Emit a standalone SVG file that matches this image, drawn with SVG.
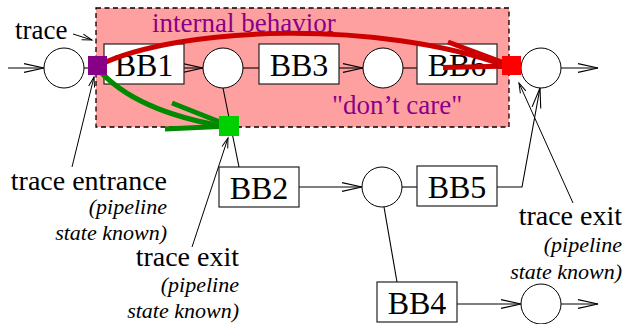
<svg xmlns="http://www.w3.org/2000/svg" width="625" height="324" viewBox="0 0 625 324">
  <style>
    .lbl { font-family: "Liberation Serif", "Times New Roman", serif; fill: #000; }
    .bbt { font-family: "Liberation Serif", "Times New Roman", serif; font-size: 32px; text-anchor: middle; fill: #000; }
    .note { font-size: 28px; text-anchor: end; }
    .sub { font-size: 22px; font-style: italic; text-anchor: end; }
    .purple { font-family: "Liberation Serif", "Times New Roman", serif; font-size: 27px; fill: #880088; }
    .box { fill: #fff; stroke: #222; stroke-width: 1.2; }
    .node { fill: #fff; stroke: #000; stroke-width: 1; }
    .edge { fill: none; stroke: #000; stroke-width: 1.1; }
    .arrow { marker-end: url(#open); }
    .ann { fill: none; stroke: #000; stroke-width: 1; marker-end: url(#small); }
    .red { fill: none; stroke: #cc0000; stroke-width: 5; }
    .green { fill: none; stroke: #008a00; stroke-width: 5; }
  </style>
  <defs>
    <marker id="open" markerUnits="userSpaceOnUse" markerWidth="22" markerHeight="12" refX="20" refY="5" orient="auto" overflow="visible">
      <path d="M0,0.6 L20,5 L0,9.4" fill="none" stroke="#000" stroke-width="1.1"/>
    </marker>
    <marker id="small" markerUnits="userSpaceOnUse" markerWidth="12" markerHeight="8" refX="10" refY="3" orient="auto" overflow="visible">
      <path d="M0,0 L10,3 L0,6" fill="none" stroke="#000" stroke-width="1"/>
    </marker>
  </defs>

  <!-- shaded "don't care" region -->
  <g id="region">
    <rect x="96" y="8" width="413" height="119" fill="#ffa0a0" stroke="#000" stroke-width="1.3" stroke-dasharray="5 3.5"/>
    <text class="purple" x="152" y="32">internal behavior</text>
    <text class="purple" x="332" y="114">"don’t care"</text>
  </g>

  <!-- connectors -->
  <g id="connectors">
    <line class="edge arrow" x1="8" y1="68" x2="44" y2="68"/>
    <line class="edge" x1="84" y1="68" x2="104" y2="68"/>
    <line class="edge arrow" x1="184" y1="68" x2="203" y2="68"/>
    <line class="edge" x1="243" y1="68" x2="259" y2="68"/>
    <line class="edge arrow" x1="339" y1="68" x2="363" y2="68"/>
    <line class="edge" x1="403" y1="68" x2="417" y2="68"/>
    <line class="edge" x1="497" y1="68" x2="521" y2="68"/>
    <line class="edge arrow" x1="561" y1="68" x2="598" y2="68"/>
    <line class="edge" x1="223" y1="88" x2="239" y2="167"/>
    <line class="edge arrow" x1="299" y1="187" x2="362" y2="187"/>
    <line class="edge" x1="402" y1="187" x2="417" y2="187"/>
    <polyline class="edge arrow" points="497,187 522,187 540,88"/>
    <line class="edge" x1="384" y1="207" x2="397" y2="282"/>
    <line class="edge arrow" x1="457" y1="304" x2="521" y2="304"/>
    <line class="edge arrow" x1="561" y1="304" x2="598" y2="304"/>
  </g>

  <!-- basic blocks and junctions -->
  <g id="n-entry"><circle class="node" cx="64" cy="68" r="20"/></g>
  <g id="bb1"><rect class="box" x="104" y="44" width="80" height="40"/><text class="bbt" x="144" y="75.5">BB1</text></g>
  <g id="j1"><circle class="node" cx="223" cy="68" r="20"/></g>
  <g id="bb3"><rect class="box" x="259" y="44" width="80" height="40"/><text class="bbt" x="299" y="75.5">BB3</text></g>
  <g id="j2"><circle class="node" cx="383" cy="68" r="20"/></g>
  <g id="bb6"><rect class="box" x="417" y="44" width="80" height="40"/><text class="bbt" x="457" y="75.5">BB6</text></g>
  <g id="n-exit"><circle class="node" cx="541" cy="68" r="20"/></g>
  <g id="bb2"><rect class="box" x="219" y="167" width="80" height="40"/><text class="bbt" x="259" y="198.5">BB2</text></g>
  <g id="j3"><circle class="node" cx="382" cy="187" r="20"/></g>
  <g id="bb5"><rect class="box" x="417" y="166" width="80" height="40"/><text class="bbt" x="457" y="197.5">BB5</text></g>
  <g id="bb4"><rect class="box" x="377" y="282" width="80" height="40"/><text class="bbt" x="417" y="313.5">BB4</text></g>
  <g id="n-exit2"><circle class="node" cx="541" cy="304" r="20"/></g>

  <!-- trace paths -->
  <g id="trace-main">
    <path class="red" d="M97,66 C180,25 380,20 506,66"/>
    <line class="red" x1="448" y1="42" x2="512" y2="66"/>
    <line class="red" x1="443" y1="67.5" x2="512" y2="66"/>
  </g>
  <g id="trace-side">
    <path class="green" d="M97,68 Q135,112 228,127"/>
    <line class="green" x1="172" y1="103" x2="230" y2="126"/>
    <line class="green" x1="165" y1="129" x2="230" y2="126"/>
  </g>

  <!-- trace entrance / exit markers -->
  <g id="entry-mark"><rect x="88" y="56" width="19" height="19" fill="#880088"/></g>
  <g id="exit-mark"><rect x="502" y="56" width="19" height="19" fill="#ff0000"/></g>
  <g id="side-exit-mark"><rect x="219" y="116" width="20" height="20" fill="#00d000"/></g>

  <!-- annotations -->
  <g id="ann-trace">
    <text class="lbl" x="15" y="39" font-size="27">trace</text>
    <line class="ann" x1="73" y1="34" x2="92" y2="40"/>
  </g>
  <g id="ann-entrance">
    <line class="ann" x1="72" y1="167" x2="94" y2="77"/>
    <text class="lbl note" x="167" y="190">trace entrance</text>
    <text class="lbl sub" x="167" y="214">(pipeline</text>
    <text class="lbl sub" x="167" y="240">state known)</text>
  </g>
  <g id="ann-exit-mid">
    <line class="ann" x1="192" y1="247" x2="228" y2="138"/>
    <text class="lbl note" x="239" y="266">trace exit</text>
    <text class="lbl sub" x="239" y="292">(pipeline</text>
    <text class="lbl sub" x="239" y="318">state known)</text>
  </g>
  <g id="ann-exit-right">
    <line class="ann" x1="573" y1="203" x2="519" y2="83"/>
    <text class="lbl note" x="622" y="225">trace exit</text>
    <text class="lbl sub" x="622" y="252">(pipeline</text>
    <text class="lbl sub" x="622" y="279">state known)</text>
  </g>
</svg>
